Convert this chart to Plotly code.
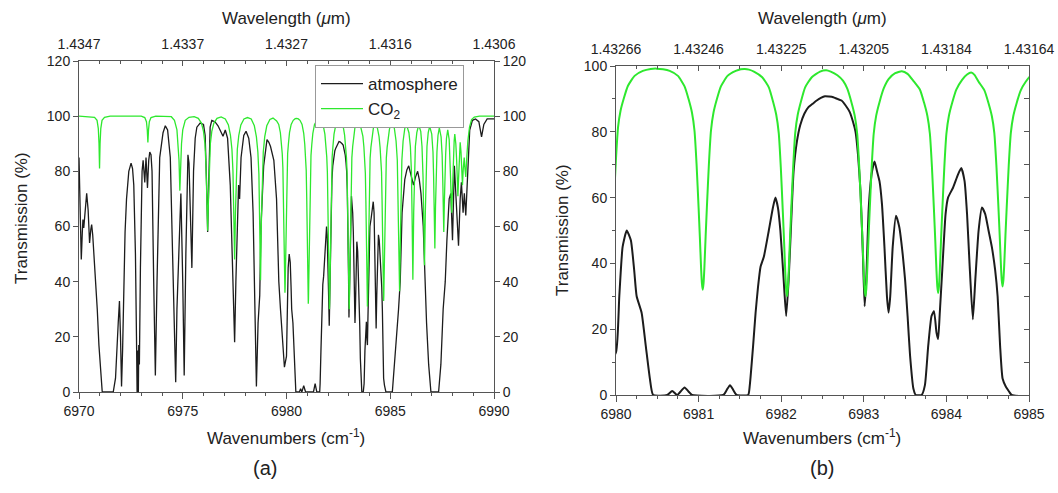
import plotly.graph_objects as go

# ---------------- data ----------------
# atmosphere transmission (%) vs wavenumber (cm^-1)
atm_points = [
    (6970.0, 85), (6970.05, 70), (6970.11, 48), (6970.16, 58), (6970.19, 62.5), (6970.23, 59.5),
    (6970.3, 66), (6970.37, 72), (6970.44, 66), (6970.51, 54), (6970.57, 59), (6970.61, 60.7),
    (6970.66, 57), (6970.72, 50), (6970.8, 40), (6970.88, 30), (6970.96, 17), (6971.04, 8),
    (6971.12, 0), (6971.65, 0), (6971.76, 5), (6971.89, 25), (6971.95, 33), (6972.0, 20),
    (6972.05, 2), (6972.1, 15), (6972.16, 40), (6972.22, 58), (6972.29, 70), (6972.4, 80),
    (6972.51, 83), (6972.58, 81), (6972.64, 75), (6972.72, 50), (6972.77, 20), (6972.8, 0),
    (6972.83, 15), (6972.86, 0), (6972.88, 17), (6972.91, 10), (6972.96, 45), (6973.04, 80),
    (6973.09, 84), (6973.17, 76), (6973.23, 85), (6973.3, 74), (6973.36, 84), (6973.41, 87),
    (6973.47, 86), (6973.52, 80), (6973.6, 40), (6973.68, 6), (6973.76, 40), (6973.82, 68),
    (6973.89, 85), (6974.05, 94), (6974.16, 96.5), (6974.27, 95), (6974.4, 85), (6974.51, 50),
    (6974.61, 10), (6974.66, 3.5), (6974.72, 30), (6974.82, 50), (6974.91, 72), (6975.0, 40),
    (6975.07, 6), (6975.15, 50), (6975.25, 86), (6975.3, 83), (6975.36, 70), (6975.44, 45),
    (6975.52, 80), (6975.6, 92), (6975.68, 96), (6975.84, 97.5), (6976.0, 97), (6976.08, 93),
    (6976.15, 75), (6976.2, 58), (6976.25, 75), (6976.32, 96), (6976.4, 98.5), (6976.55, 98),
    (6976.7, 96.5), (6976.81, 95), (6976.94, 92.7), (6977.05, 95), (6977.16, 92), (6977.29, 75),
    (6977.37, 50), (6977.45, 25), (6977.5, 18), (6977.56, 40), (6977.65, 70), (6977.69, 75),
    (6977.74, 70), (6977.81, 85), (6977.94, 93), (6978.05, 94.5), (6978.18, 92), (6978.29, 85),
    (6978.39, 65), (6978.47, 30), (6978.55, 2), (6978.63, 25), (6978.71, 35), (6978.77, 60),
    (6978.9, 82), (6979.06, 91.5), (6979.15, 90.5), (6979.23, 89), (6979.39, 84), (6979.52, 70),
    (6979.63, 40), (6979.71, 30), (6979.77, 22), (6979.84, 14), (6979.9, 9),
    (6980.0, 13), (6980.04, 30), (6980.08, 45), (6980.13, 50), (6980.18, 47), (6980.22, 38),
    (6980.25, 30), (6980.31, 25), (6980.36, 15), (6980.41, 5), (6980.45, 0), (6980.62, 0),
    (6980.68, 1.2), (6980.74, 0), (6980.78, 1), (6980.83, 2.3), (6980.88, 1), (6980.92, 0),
    (6981.3, 0), (6981.34, 1.5), (6981.38, 3), (6981.42, 1.5), (6981.46, 0), (6981.6, 0),
    (6981.62, 3), (6981.66, 15), (6981.69, 25), (6981.72, 33), (6981.75, 39), (6981.79, 42),
    (6981.85, 50), (6981.9, 57), (6981.93, 60), (6981.96, 57), (6981.99, 50), (6982.03, 35),
    (6982.06, 24), (6982.09, 35), (6982.12, 52), (6982.15, 68), (6982.19, 77), (6982.23, 82),
    (6982.28, 85.5), (6982.33, 87.5), (6982.38, 88.5), (6982.43, 89.5), (6982.48, 90.3),
    (6982.53, 90.8), (6982.58, 90.7), (6982.63, 90.5), (6982.68, 90), (6982.73, 89.5),
    (6982.78, 88), (6982.83, 86), (6982.87, 83), (6982.9, 80), (6982.93, 73), (6982.96, 62),
    (6982.99, 42), (6983.01, 27), (6983.03, 35), (6983.06, 57), (6983.1, 68), (6983.13, 71),
    (6983.16, 68), (6983.19, 65), (6983.22, 58), (6983.25, 45), (6983.28, 30), (6983.3, 25),
    (6983.32, 30), (6983.35, 45), (6983.39, 54.5), (6983.43, 51), (6983.47, 43), (6983.5, 35),
    (6983.53, 24), (6983.56, 12), (6983.6, 2), (6983.63, 0), (6983.7, 0), (6983.74, 3),
    (6983.78, 15), (6983.82, 24), (6983.85, 25.5), (6983.88, 19), (6983.9, 17), (6983.92, 25),
    (6983.95, 38), (6983.99, 55), (6984.02, 60), (6984.08, 63), (6984.14, 67), (6984.18, 69),
    (6984.22, 65), (6984.25, 55), (6984.28, 40), (6984.32, 23), (6984.35, 35), (6984.39, 50),
    (6984.43, 57), (6984.47, 55), (6984.51, 50), (6984.55, 45), (6984.59, 38), (6984.62, 30),
    (6984.65, 15), (6984.68, 5), (6984.72, 2.5), (6984.76, 1), (6984.79, 0),
    (6985.1, 0), (6985.2, 10), (6985.32, 20), (6985.4, 30), (6985.48, 40), (6985.52, 52),
    (6985.57, 65), (6985.7, 77), (6985.8, 80.5), (6985.89, 82), (6986.0, 79), (6986.12, 75),
    (6986.22, 78), (6986.32, 80), (6986.4, 77), (6986.48, 72), (6986.59, 60), (6986.65, 45),
    (6986.69, 35), (6986.75, 25), (6986.85, 10), (6986.96, 0), (6987.33, 0), (6987.44, 10),
    (6987.55, 30), (6987.65, 40), (6987.73, 55), (6987.84, 70), (6987.92, 72), (6988.0, 55),
    (6988.09, 82), (6988.19, 65), (6988.29, 53), (6988.37, 70), (6988.43, 76), (6988.51, 65),
    (6988.57, 72), (6988.64, 64), (6988.72, 80), (6988.83, 95), (6988.96, 98.5), (6989.11, 99),
    (6989.27, 98), (6989.4, 92.5), (6989.51, 97), (6989.67, 99), (6990.0, 99),
]

# CO2 transmission (%) vs wavenumber (cm^-1)
co2_points = [
    (6970.0, 100), (6970.75, 99.6), (6970.87, 98.5), (6970.93, 95.5), (6970.965, 90), (6970.99, 81),
    (6971.015, 90), (6971.05, 95.5), (6971.11, 98.5), (6971.23, 99.6), (6971.5, 100), (6973.0, 100),
    (6973.17, 99.5), (6973.25, 98), (6973.29, 95), (6973.32, 90.5), (6973.35, 95), (6973.39, 98),
    (6973.47, 99.5), (6973.7, 100), (6974.45, 99.8), (6974.6, 98.5), (6974.72, 95), (6974.78, 90),
    (6974.82, 84), (6974.86, 73), (6974.9, 84), (6974.94, 90), (6975.0, 95), (6975.12, 98.5),
    (6975.3, 99.6), (6975.55, 99.8), (6975.75, 99.2), (6975.9, 97.5), (6976.0, 94.5), (6976.07, 90),
    (6976.12, 82), (6976.16, 70), (6976.2, 58.5), (6976.24, 70), (6976.28, 82), (6976.33, 90),
    (6976.4, 94.5), (6976.5, 97.5), (6976.65, 99.2), (6976.85, 99.7), (6977.05, 99), (6977.2, 96.8),
    (6977.3, 93), (6977.37, 88), (6977.42, 80), (6977.46, 65), (6977.5, 48), (6977.54, 65),
    (6977.58, 80), (6977.63, 88), (6977.7, 93), (6977.8, 96.8), (6977.95, 99), (6978.12, 99.5),
    (6978.3, 99), (6978.45, 96.5), (6978.55, 92.5), (6978.62, 87), (6978.67, 79), (6978.71, 62),
    (6978.75, 40.5), (6978.79, 62), (6978.83, 79), (6978.88, 87), (6978.95, 92.5), (6979.05, 96.5),
    (6979.2, 98.8), (6979.35, 99.3),
    (6979.525, 98.3), (6979.625, 97.0), (6979.705, 94), (6979.755, 90.2), (6979.795, 86.4),
    (6979.825, 81.4), (6979.85, 71.9), (6979.875, 59.3), (6979.89, 51.1), (6979.905, 42.3),
    (6979.915, 37.9), (6979.925, 36), (6979.935, 37.9), (6979.945, 42.3), (6979.96, 51.1),
    (6979.975, 59.3), (6980.0, 71.9), (6980.025, 81.4), (6980.055, 86.4), (6980.095, 90.2),
    (6980.145, 94), (6980.225, 97.0), (6980.325, 98.5), (6980.42, 99.1), (6980.49, 99.2),
    (6980.57, 99.0), (6980.65, 98.5), (6980.75, 97.0), (6980.83, 93.8), (6980.88, 89.8),
    (6980.92, 85.8), (6980.95, 80.4), (6980.975, 70.3), (6981.0, 56.9), (6981.015, 48.1),
    (6981.03, 38.7), (6981.04, 34), (6981.05, 32), (6981.06, 34), (6981.07, 38.7),
    (6981.085, 48.1), (6981.1, 56.9), (6981.125, 70.3), (6981.15, 80.4), (6981.18, 85.8),
    (6981.22, 89.8), (6981.27, 93.8), (6981.35, 97.0), (6981.45, 98.5), (6981.51, 99.0),
    (6981.56, 99.1), (6981.61, 98.9),
    (6981.67, 98.3), (6981.77, 96.6), (6981.85, 93.5), (6981.9, 89.3), (6981.94, 85.2),
    (6981.97, 79.7), (6981.995, 69.3), (6982.02, 55.5), (6982.035, 46.6), (6982.05, 36.9),
    (6982.06, 32.1), (6982.07, 30), (6982.08, 32.1), (6982.09, 36.9), (6982.105, 46.6),
    (6982.12, 55.5), (6982.145, 69.3), (6982.17, 79.7), (6982.2, 85.2), (6982.24, 89.3),
    (6982.29, 93.5), (6982.37, 96.6), (6982.47, 98.3), (6982.545, 98.7), (6982.6, 98.3),
    (6982.68, 97.2), (6982.75, 95.5), (6982.8, 93.1), (6982.85, 89), (6982.89, 84.9),
    (6982.92, 79.4), (6982.945, 69.1), (6982.97, 55.4), (6982.985, 46.5), (6983.0, 36.9),
    (6983.01, 32.1), (6983.02, 30), (6983.03, 32.1), (6983.04, 36.9), (6983.055, 46.5),
    (6983.07, 55.4), (6983.095, 69.1), (6983.12, 79.4), (6983.15, 84.9), (6983.19, 89),
    (6983.24, 93.1), (6983.3, 96.0), (6983.38, 97.8), (6983.46, 98.4), (6983.53, 97.6),
    (6983.6, 95.5), (6983.68, 92.8), (6983.73, 88.8), (6983.77, 84.8), (6983.8, 79.4),
    (6983.825, 69.3), (6983.85, 55.9), (6983.865, 47.1), (6983.88, 37.7), (6983.89, 33),
    (6983.9, 31), (6983.91, 33), (6983.92, 37.7), (6983.935, 47.1), (6983.95, 55.9),
    (6983.975, 69.3), (6984.0, 79.4), (6984.03, 84.8), (6984.07, 88.8), (6984.12, 92.8),
    (6984.19, 95.8), (6984.25, 97.4), (6984.3, 98), (6984.34, 97.3),
    (6984.39, 95.2), (6984.46, 92.6), (6984.51, 88.7), (6984.55, 84.8), (6984.58, 79.7),
    (6984.605, 69.9), (6984.63, 57), (6984.645, 48.6), (6984.66, 39.5), (6984.67, 34.9),
    (6984.68, 33), (6984.69, 34.9), (6984.7, 39.5), (6984.715, 48.6), (6984.73, 57),
    (6984.755, 69.9), (6984.78, 79.7), (6984.81, 84.8), (6984.85, 88.7), (6984.9, 92.6),
    (6984.96, 95.2), (6985.02, 97), (6985.08, 97.6),
    (6985.2, 95.5), (6985.28, 91), (6985.34, 84), (6985.4, 60), (6985.45, 36.5), (6985.5, 60),
    (6985.56, 84), (6985.62, 91), (6985.7, 95.5), (6985.77, 97.2),
    (6985.9, 94), (6985.97, 89), (6986.02, 80), (6986.05, 65), (6986.09, 40.7), (6986.13, 65),
    (6986.16, 80), (6986.21, 89), (6986.28, 94), (6986.37, 96.8),
    (6986.47, 94.5), (6986.53, 89), (6986.58, 78), (6986.61, 65), (6986.65, 46), (6986.69, 65),
    (6986.72, 78), (6986.77, 89), (6986.83, 94), (6986.9, 96.3),
    (6987.0, 93.5), (6987.06, 87), (6987.09, 78), (6987.12, 67), (6987.15, 52), (6987.18, 67),
    (6987.21, 78), (6987.25, 87), (6987.3, 93), (6987.365, 95.8),
    (6987.45, 92.5), (6987.5, 86), (6987.53, 77), (6987.555, 68), (6987.58, 58), (6987.605, 68),
    (6987.63, 77), (6987.67, 86), (6987.71, 92), (6987.77, 95),
    (6987.84, 91.5), (6987.88, 85), (6987.91, 77), (6987.935, 70), (6987.96, 65), (6987.985, 70),
    (6988.01, 77), (6988.04, 85), (6988.08, 91), (6988.11, 93.5),
    (6988.16, 90), (6988.2, 84), (6988.23, 77), (6988.26, 71), (6988.29, 77), (6988.32, 84),
    (6988.35, 89.5), (6988.37, 90.5),
    (6988.41, 87), (6988.44, 81), (6988.48, 75), (6988.52, 81), (6988.55, 84.5), (6988.565, 85),
    (6988.6, 81), (6988.64, 78), (6988.68, 84), (6988.74, 91), (6988.82, 96), (6988.92, 98.8),
    (6989.05, 99.7), (6989.3, 100), (6990.0, 100),
]

# tick values / labels
a_wn_ticks = [6970, 6975, 6980, 6985, 6990]
a_wl_labels = ["1.4347", "1.4337", "1.4327", "1.4316", "1.4306"]
b_wn_ticks = [6980, 6981, 6982, 6983, 6984, 6985]
b_wl_labels = ["1.43266", "1.43246", "1.43225", "1.43205", "1.43184", "1.43164"]

atm_x = [p[0] for p in atm_points]
atm_y = [p[1] for p in atm_points]
co2_x = [p[0] for p in co2_points]
co2_y = [p[1] for p in co2_points]

# ---------------- figure ----------------
W, H = 1058, 493
FONT = "Liberation Sans, Arial, sans-serif"
BLACK = "#1c1c1c"
GREEN = "#2ee82e"
AXC = "#555555"

def px(x):
    return x / W

def py(y):
    return 1 - y / H

fig = go.Figure()
fig.add_trace(go.Scatter(x=atm_x, y=atm_y, mode="lines", name="atmosphere",
                         line=dict(color=BLACK, width=1.3), xaxis="x", yaxis="y"))
fig.add_trace(go.Scatter(x=co2_x, y=co2_y, mode="lines", name="CO<sub>2</sub>",
                         line=dict(color=GREEN, width=1.3), xaxis="x", yaxis="y"))
fig.add_trace(go.Scatter(x=[], y=[], mode="lines", showlegend=False, hoverinfo="skip",
                         xaxis="x2", yaxis="y2"))
fig.add_trace(go.Scatter(x=atm_x, y=atm_y, mode="lines", showlegend=False,
                         line=dict(color=BLACK, width=2, shape="spline", smoothing=0.5),
                         xaxis="x3", yaxis="y3"))
fig.add_trace(go.Scatter(x=co2_x, y=co2_y, mode="lines", showlegend=False,
                         line=dict(color=GREEN, width=2, shape="spline", smoothing=0.5),
                         xaxis="x3", yaxis="y3"))
fig.add_trace(go.Scatter(x=[], y=[], mode="lines", showlegend=False, hoverinfo="skip",
                         xaxis="x4", yaxis="y4"))

tickfont = dict(family=FONT, size=14, color="#222")
common = dict(showgrid=False, zeroline=False, showline=True, linecolor=AXC, linewidth=1,
              tickcolor=AXC, tickfont=tickfont, automargin=False, fixedrange=True)

a_dom_x = [px(79), px(494)]
a_dom_y = [py(392), py(61)]
b_dom_x = [px(616), px(1029)]
b_dom_y = [py(395), py(66)]

fig.update_layout(
    width=W, height=H, margin=dict(l=0, r=0, t=0, b=0),
    paper_bgcolor="white", plot_bgcolor="white",
    font=dict(family=FONT, color="#222"),
    xaxis=dict(domain=a_dom_x, anchor="y", range=[6970, 6990], tickvals=a_wn_ticks,
               ticks="outside", ticklen=6,
               minor=dict(dtick=1, ticks="outside", ticklen=3, tickcolor=AXC), **common),
    yaxis=dict(domain=a_dom_y, anchor="x", range=[0, 120], dtick=20,
               ticks="outside", ticklen=5, **common),
    xaxis2=dict(domain=a_dom_x, anchor="y", overlaying="x", side="top", range=[6970, 6990],
                tickvals=a_wn_ticks, ticktext=a_wl_labels, ticks="inside", ticklen=5,
                ticklabelstandoff=5,
                minor=dict(dtick=1, ticks="inside", ticklen=3, tickcolor=AXC), **common),
    yaxis2=dict(domain=a_dom_y, anchor="x", overlaying="y", side="right", range=[0, 120],
                dtick=20, ticks="outside", ticklen=5, **common),
    xaxis3=dict(domain=b_dom_x, anchor="y3", range=[6980, 6985], tickvals=b_wn_ticks,
                ticks="outside", ticklen=6,
                minor=dict(dtick=0.25, ticks="outside", ticklen=3, tickcolor=AXC), **common),
    yaxis3=dict(domain=b_dom_y, anchor="x3", range=[0, 100], dtick=20,
                ticks="outside", ticklen=5,
                minor=dict(dtick=10, ticks="outside", ticklen=3, tickcolor=AXC), **common),
    xaxis4=dict(domain=b_dom_x, anchor="y3", overlaying="x3", side="top", range=[6980, 6985],
                tickvals=b_wn_ticks, ticktext=b_wl_labels, ticks="inside", ticklen=5,
                ticklabelstandoff=5,
                minor=dict(dtick=0.25, ticks="inside", ticklen=3, tickcolor=AXC), **common),
    yaxis4=dict(domain=b_dom_y, anchor="x3", overlaying="y3", side="right", range=[0, 100],
                dtick=10, ticks="inside", ticklen=5, showticklabels=False, **common),
    legend=dict(x=px(315), y=py(65), xanchor="left", yanchor="top",
                bgcolor="white", bordercolor="#999", borderwidth=1,
                font=dict(family=FONT, size=17, color="#222"),
                tracegroupgap=0, itemwidth=42),
    showlegend=True,
)

title_font = dict(family=FONT, size=17, color="#222")
ann = [
    dict(x=px(286), y=py(18), text="Wavelength (<i>\u03bc</i>m)"),
    dict(x=px(822), y=py(18), text="Wavelength (<i>\u03bc</i>m)"),
    dict(x=px(286), y=py(437), text="Wavenumbers (cm<sup>-1</sup>)"),
    dict(x=px(822), y=py(437), text="Wavenumbers (cm<sup>-1</sup>)"),
    dict(x=px(21), y=py(218), text="Transmission (%)", textangle=-90),
    dict(x=px(563), y=py(230), text="Transmission (%)", textangle=-90),
]
for a in ann:
    fig.add_annotation(xref="paper", yref="paper", showarrow=False,
                       xanchor="center", yanchor="middle", font=title_font, **a)
for x, t in [(265, "(a)"), (822, "(b)")]:
    fig.add_annotation(xref="paper", yref="paper", x=px(x), y=py(468), text=t,
                       showarrow=False, xanchor="center", yanchor="middle",
                       font=dict(family=FONT, size=20, color="#222"))

fig.write_html("out.html", config={"displayModeBar": False},
               post_script="document.body.style.margin='0px';document.body.style.overflow='hidden';")
